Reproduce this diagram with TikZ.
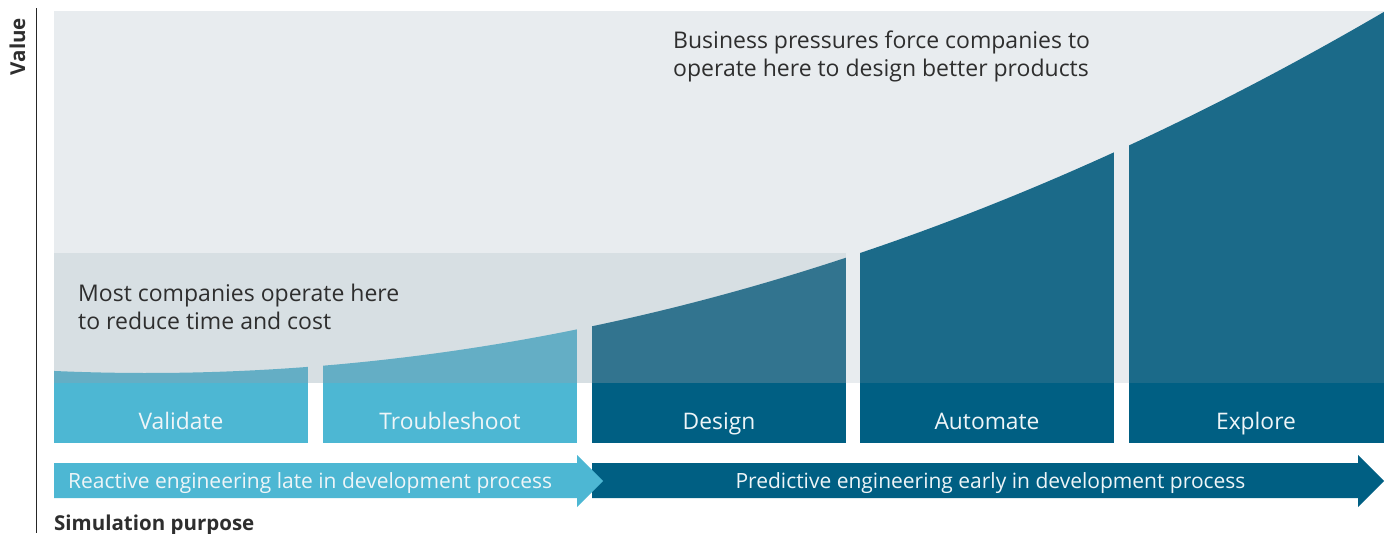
\documentclass[tikz,border=0pt]{standalone}
\usepackage{fontspec}
\setmainfont{Open Sans}
\definecolor{bglight}{HTML}{E8ECEF}
\definecolor{bgband}{HTML}{D7DFE3}
\definecolor{cyanbar}{HTML}{4DB7D3}
\definecolor{cyantop}{HTML}{64AEC5}
\definecolor{bluebar}{HTML}{005F83}
\definecolor{designtop}{HTML}{32748F}
\definecolor{bluetop}{HTML}{1B6A89}
\definecolor{txtdark}{HTML}{2E2E2E}
\definecolor{txtlight}{HTML}{EEF5F8}
\begin{document}
\begin{tikzpicture}[x=1pt,y=-1pt,
  note/.style={text=txtdark,font=\fontsize{23}{28}\selectfont,align=left,inner sep=0pt},
  barlabel/.style={text=txtlight,font=\fontsize{22.8}{26}\selectfont,inner sep=0pt,anchor=base},
  arrowlabel/.style={text=txtlight,font=\fontsize{21}{24}\selectfont,inner sep=0pt},
  axislabel/.style={text=txtdark,font=\fontsize{20.5}{24}\selectfont\bfseries,inner sep=0pt}]
\useasboundingbox (0,0) rectangle (1387,533);
% backgrounds
\fill[bglight] (54,11) rectangle (1384,383);
\fill[bgband] (54,253) rectangle (846,383);
% column tops under the curve
\begin{scope}
  \clip (54,383) -- plot[domain=54:1384,samples=120] (\x,{373-2.36*((\x-147)/100)^2}) -- (1384,383) -- cycle;
  \fill[cyantop] (54,0) rectangle (308,383);
  \fill[cyantop] (323,0) rectangle (577,383);
  \fill[designtop] (592,0) rectangle (846,383);
  \fill[bluetop] (860,0) rectangle (1114,383);
  \fill[bluetop] (1129,0) rectangle (1384,383);
\end{scope}
% bottom bars
\fill[cyanbar] (54,383) rectangle (308,443);
\fill[cyanbar] (323,383) rectangle (577,443);
\fill[bluebar] (592,383) rectangle (846,443);
\fill[bluebar] (860,383) rectangle (1114,443);
\fill[bluebar] (1129,383) rectangle (1384,443);
\node[barlabel] (validate) at (181,429) {Validate};
\node[barlabel] (troubleshoot) at (450,429) {Troubleshoot};
\node[barlabel] (design) at (719,429) {Design};
\node[barlabel] (automate) at (987,429) {Automate};
\node[barlabel] (explore) at (1256,429) {Explore};
% arrows
\fill[bluebar] (592,463) -- (1358,463) -- (1358,455) -- (1384,481) -- (1358,507) -- (1358,498) -- (592,498) -- cycle;
\fill[cyanbar] (54,463) -- (577,463) -- (577,455) -- (603,481) -- (577,507) -- (577,498) -- (54,498) -- cycle;
\node[arrowlabel,anchor=base west] (reactive) at (68,488) {Reactive engineering late in development process};
\node[arrowlabel,anchor=base] (predictive) at (990.5,488) {Predictive engineering early in development process};
% axis
\draw[line width=1.3pt,color=black!85] (36.5,8) -- (36.5,533);
\node[axislabel,rotate=90,anchor=base] (value) at (25,46.5) {Value};
\node[axislabel,anchor=base west] (simpurpose) at (54,530) {Simulation purpose};
% notes
\node[note,anchor=base west] (business) at (673,48.5) {Business pressures force companies to};
\node[note,anchor=base west] (business2) at (673,76.5) {operate here to design better products};
\node[note,anchor=base west] (most) at (78,301) {Most companies operate here};
\node[note,anchor=base west] (most2) at (78,329) {to reduce time and cost};
\end{tikzpicture}
\end{document}
